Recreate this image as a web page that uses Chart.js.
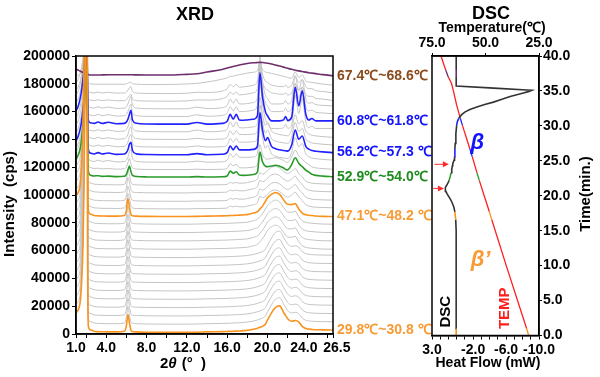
<!DOCTYPE html>
<html><head><meta charset="utf-8">
<script src="https://cdn.jsdelivr.net/npm/chart.js@4.4.0/dist/chart.umd.min.js"></script>
<style>
html,body{margin:0;padding:0;background:#fff;}
#wrap{position:relative;width:600px;height:377px;overflow:hidden;}
canvas{position:absolute;left:0;top:0;}
</style></head><body>
<div id="wrap"><canvas id="xrd" width="600" height="377"></canvas><canvas id="dsc" width="600" height="377"></canvas></div>
<script>
// ---------------- XRD data ----------------
const twoTheta = [1.0,1.2,1.4,1.55,1.7,1.8,1.9,2.0,2.08,2.15,
 2.22,2.4,2.8,3.2,3.6,4.2,5.0,5.8,6.0,6.15,
 6.3,6.45,6.6,7.0,8.0,10.0,12.0,13.0,14.0,15.5,
 16.0,16.3,16.6,16.9,17.2,17.6,18.0,18.6,19.0,19.25,
 19.5,19.8,20.0,20.4,20.8,21.2,21.6,21.8,22.0,22.4,
 22.75,23.1,23.45,23.8,24.1,24.4,24.8,25.5,26.5];

// intensity above each scan's own level at 2θ = 10°
const profBetaPrimeEarly = [14000,16000,21000,35000,65000,110000,180000,260000,260000,58800,
 4800,1800,800,500,400,300,300,800,4800,12800,
 6800,1500,600,300,100,0,0,100,300,500,
 600,700,800,900,1000,1200,1500,2200,3000,3600,
 4300,6000,8800,14000,18000,19000,14300,12000,9800,8000,
 8500,7500,4300,2800,2300,2100,1900,1800,1700];
const profBetaPrimeLate = [15000,17000,22000,36000,66000,111000,181000,260000,260000,58800,
 4800,1800,800,500,400,300,300,800,4500,13000,
 7000,1500,600,300,100,0,0,100,300,500,
 600,700,800,900,1000,1200,1400,2500,3500,5500,
 7500,11000,13500,16000,17300,16000,12000,10000,8800,8600,
 9300,5500,2500,1300,900,700,400,100,0];
const profTransition = [14000,16000,20000,30000,50000,80000,130000,200000,200000,50000,
 4500,1700,800,600,400,400,300,700,4000,11000,
 7500,2500,700,300,100,0,0,200,200,400,
 700,2000,1500,2000,1500,1500,2000,3000,4500,9000,
 8000,9000,10500,13000,13500,12500,10000,9000,8500,10000,
 12000,8500,6000,3000,2000,1500,1200,1000,800];
const prof52_9 = [12500,15500,20000,27000,38000,48000,60000,80000,75000,30000,
 4500,1500,800,1000,500,700,300,600,2000,5000,
 8000,4000,1200,400,100,0,0,300,0,200,
 800,4300,2800,3800,1500,1200,1300,1800,3500,18000,
 11000,7800,7500,8000,8500,7800,6500,5500,5200,9000,
 13900,10000,7500,5000,3500,2000,1200,700,200];
const prof56_2 = [10000,13000,18000,24000,33000,41000,52000,72000,65000,28000,
 4000,1200,500,1500,500,1200,200,500,1500,3500,
 7500,9000,3000,600,100,0,0,800,0,300,
 1500,6200,3500,6200,3500,3500,3500,3800,6000,30300,
 18000,10000,12300,6000,4300,3500,3000,2800,2600,7000,
 17800,11100,13500,6000,4000,3000,2500,2000,1500];
const prof60_8 = [9500,12500,18000,24000,33000,40000,50000,68000,60000,25000,
 3000,1000,500,1500,500,1300,300,500,1500,3500,
 7000,10000,3000,600,100,0,0,1200,0,500,
 2000,7100,3500,7100,3000,2800,3000,3500,6000,37000,
 20000,8800,6000,2300,2300,2300,3000,5400,2500,5000,
 26400,13100,23900,7100,3000,4000,2300,2300,2300];
const profBetaStrong = [9500,12500,17000,23000,31000,38000,48000,65000,58000,24000,
 3000,1000,500,1500,500,1300,300,500,1500,3500,
 6500,9000,3000,600,100,0,0,1200,200,800,
 2500,7000,4000,7000,3500,3500,3800,4500,8000,38000,
 20000,9500,7500,3500,3500,3500,4000,6000,3500,6000,
 24000,13000,21000,7000,4000,4500,3000,2500,2000];
const profPreMelt = [8000,10000,14000,19000,26000,32000,40000,55000,48000,20000,
 2500,800,400,1000,400,900,300,400,1000,2500,
 4000,5000,1500,400,100,0,200,900,800,1800,
 3500,6500,5000,6500,4500,4800,5200,6000,9000,24000,
 14000,9000,8000,6000,5500,5000,5000,6000,4500,6000,
 12000,8000,10000,5000,3500,3500,2000,1500,500];
const profMeltOnset = [6000,6500,8000,11000,16000,22000,30000,40000,35000,12000,
 1500,500,200,200,200,200,200,200,500,1000,
 1500,1500,600,200,0,0,400,800,1800,3800,
 4800,5800,6000,6600,7000,7600,8200,8800,10000,16000,
 11000,9000,8600,8000,7300,6600,5800,5600,5000,4500,
 9000,5000,7000,2500,1800,1500,1000,300,-500];
const profMelt = [4300,3600,2900,2400,1900,1600,1300,1000,800,600,
 400,0,0,0,100,200,200,200,200,200,
 200,200,200,100,0,0,500,900,2200,4000,
 5000,5600,6200,6700,7200,7800,8300,8800,9000,9100,
 9000,8700,8500,7900,7200,6500,5700,5300,4900,4100,
 3500,3000,2500,2100,1700,1400,1000,300,-500];

const profiles = {
  betaPrimeEarly: profBetaPrimeEarly, betaPrimeLate: profBetaPrimeLate,
  transition: profTransition, s52_9: prof52_9, s56_2: prof56_2, s60_8: prof60_8,
  betaStrong: profBetaStrong, preMelt: profPreMelt, meltOnset: profMeltOnset, melt: profMelt
};

// level of every scan at 2θ = 10° (bottom scan first)
const scanOffsets = [1200,7100,13000,19000,25000,31000,37000,43000,49000,55000,
 61000,67000,73000,79000,84500,90000,95500,101500,107000,112900,
 118300,123600,129000,134500,140000,145500,151000,156500,162000,167500,
 173000,179500,186300];
const scanProfile = ['betaPrimeEarly','betaPrimeEarly','betaPrimeEarly','betaPrimeEarly','betaPrimeEarly',
 'betaPrimeEarly','betaPrimeEarly','betaPrimeEarly','betaPrimeEarly','betaPrimeEarly',
 'betaPrimeLate','betaPrimeLate','betaPrimeLate','betaPrimeLate','betaPrimeLate',
 'transition','transition','transition','transition','s52_9',
 's52_9','s56_2','s56_2','s56_2','s56_2',
 's60_8','s60_8','betaStrong','betaStrong','preMelt',
 'preMelt','meltOnset','melt'];

const highlightScan = [0, 14, 19, 22, 26, 32];
const highlightLine = ['#F7931E','#F7931E','#2A9A2A','#2222FF','#2222FF','#6E2E6E'];
const highlightText = ['#F99B35','#F99B35','#1E8C1E','#1414FF','#1414FF','#8B4A1C'];
const scanLabels = ['29.8℃~30.8 ℃','47.1℃~48.2 ℃','52.9℃~54.0℃','56.2℃~57.3 ℃','60.8℃~61.8℃','67.4℃~68.6℃'];

const xTickMarks = [1,2,4,6,8,10,12,14,16,18,20,22,24,26,26.5];
const xTickLabels = [1,4,8,12,16,20,24,26.5];
const xTickText = ['1.0','4.0','8.0','12.0','16.0','20.0','24.0  ','  26.5'];

// ---------------- DSC data ----------------
const dscTime = [0,1.0,5,10,15,16.6,17.7,18.4,19.0,19.4,19.9,20.3,20.6,20.85,21.05,21.2,21.5,22.0,22.2,22.7,
 23.3,23.8,24.3,24.6,25.1,25.6,26.7,27.5,28.9,30.1,30.6,31.1,31.6,32.0,32.35,32.7,33.05,33.4,33.8,34.2,
 34.45,34.7,34.9,35.1,35.4,35.7,37.0,38.0,40.0];
const dscFlow = [0.06,0.06,0.06,0.06,0.07,0.12,0.22,0.35,0.55,0.72,0.98,1.18,1.30,1.38,1.36,1.38,1.22,0.99,0.92,0.80,
 0.68,0.60,0.52,0.48,0.32,0.26,0.22,0.18,0.10,0.00,-0.08,-0.25,-0.6,-1.03,-1.6,-2.45,-3.4,-4.46,-5.5,-6.49,
 -7.3,-8.1,-8.7,-9.12,-4.5,0.06,0.06,0.06,0.06];
const tempTime = [0,1.0,10,16.6,17.7,20,22.2,23.3,25.6,26.7,30.1,31.1,33.0,35.0,36.1,37.0,38.0,40.0];
const tempValue = [29.8,30.8,40.3,47.1,48.2,50.6,52.9,54.0,56.2,57.3,60.8,61.8,63.5,65.0,65.9,67.4,68.6,70.8];
const scanStart = [0, 16.6, 22.2, 25.6, 30.1, 37.0];
const scanEnd   = [1.0, 17.7, 23.3, 26.7, 31.1, 38.0];
const flowTickMarks = [3,2,1,0,-1,-2,-3,-4,-5,-6,-7,-8,-9,-10];
const flowTickLabels = [3,-2,-6,-10];
const tempTickMarks = [75,50,25];
const arrowTimes = [24.5, 21.05];
const arrowFrom = [2.7, 2.85];
const arrowTo = [0.95, 1.55];

// ---------------- rendering ----------------
const FONT = "Arial, 'Liberation Sans', Helvetica, sans-serif";
Chart.defaults.font.family = FONT;
Chart.defaults.color = '#000';

const datasets = scanOffsets.map((off, i) => {
  const prof = profiles[scanProfile[i]];
  const h = highlightScan.indexOf(i);
  return {
    data: twoTheta.map((x, k) => ({x, y: off + prof[k]})),
    borderColor: h >= 0 ? highlightLine[h] : '#C4C4C4',
    borderWidth: h >= 0 ? 1.6 : 1,
    pointRadius: 0,
    cubicInterpolationMode: 'monotone',
    order: h >= 0 ? 0 : 1
  };
});

const tickFont = {size: 14, weight: 'bold'};

const xrdDecor = {
  id: 'xrdDecor',
  afterDraw(chart) {
    const {ctx, chartArea: a} = chart;
    const y = chart.scales.y;
    ctx.save();
    ctx.strokeStyle = '#000'; ctx.lineWidth = 1.5;
    ctx.strokeRect(a.left, a.top, a.right - a.left, a.bottom - a.top);
    ctx.fillStyle = '#000';
    ctx.textAlign = 'center'; ctx.textBaseline = 'middle';
    ctx.font = 'bold 18px ' + FONT;
    ctx.fillText('XRD', 195, 15);
    ctx.save();
    ctx.translate(10, 204); ctx.rotate(-Math.PI / 2);
    ctx.font = 'bold 15px ' + FONT;
    ctx.fillText('Intensity  (cps)', 0, 0);
    ctx.restore();
    // 2θ (° )
    ctx.textAlign = 'left';
    let xx = 160; const yy = 364;
    ctx.font = 'bold 15px ' + FONT; ctx.fillText('2', xx, yy); xx += ctx.measureText('2').width;
    ctx.font = 'italic bold 15px ' + FONT; ctx.fillText('θ', xx, yy); xx += ctx.measureText('θ').width + 5;
    ctx.font = 'bold 15px ' + FONT; ctx.fillText('(°  )', xx, yy);
    // scan labels
    ctx.font = 'bold 14px ' + FONT;
    highlightScan.forEach((idx, k) => {
      const d = chart.data.datasets[idx].data;
      ctx.fillStyle = highlightText[k];
      ctx.fillText(scanLabels[k], a.right + 4, y.getPixelForValue(d[d.length - 1].y));
    });
    ctx.restore();
  }
};

new Chart(document.getElementById('xrd'), {
  type: 'line',
  data: {datasets},
  options: {
    responsive: false, animation: false, events: [],
    layout: {padding: {left: 0, right: 267, top: 56, bottom: 0}},
    plugins: {legend: {display: false}, tooltip: {enabled: false}},
    scales: {
      x: {
        type: 'linear', min: 1, max: 26.5,
        afterFit: s => { s.height = 43; },
        afterBuildTicks: s => { s.ticks = xTickMarks.map(v => ({value: v})); },
        ticks: {autoSkip: false, maxRotation: 0, font: tickFont, padding: 2,
          callback: v => { const k = xTickLabels.indexOf(v); return k >= 0 ? xTickText[k] : ''; }},
        grid: {drawOnChartArea: false, tickLength: 4, color: '#000'},
        border: {color: '#000', width: 1.5}
      },
      y: {
        type: 'linear', min: 0, max: 200000,
        afterFit: s => { s.width = 76; },
        ticks: {stepSize: 20000, font: tickFont, padding: 2, callback: v => String(v)},
        grid: {drawOnChartArea: false, tickLength: 4, color: '#000'},
        border: {color: '#000', width: 1.5}
      }
    }
  },
  plugins: [xrdDecor]
});

function scanColor(ctx) {
  const t0 = ctx.p0.parsed.y, t1 = ctx.p1.parsed.y;
  for (let k = 0; k < scanStart.length; k++) {
    if (t0 >= scanStart[k] - 1e-6 && t1 <= scanEnd[k] + 1e-6) return highlightLine[k];
  }
  return undefined;
}

const dscDecor = {
  id: 'dscDecor',
  afterDraw(chart) {
    const {ctx, chartArea: a} = chart;
    const xs = chart.scales.x, ys = chart.scales.y;
    ctx.save();
    ctx.strokeStyle = '#000'; ctx.lineWidth = 1.5;
    ctx.strokeRect(a.left, a.top, a.right - a.left, a.bottom - a.top);
    ctx.fillStyle = '#000'; ctx.textAlign = 'center'; ctx.textBaseline = 'middle';
    ctx.font = 'bold 18px ' + FONT; ctx.fillText('DSC', 491, 14);
    ctx.font = 'bold 14px ' + FONT; ctx.fillText('Temperature(℃)', 492, 28);
    ctx.font = 'bold 14px ' + FONT; ctx.fillText('Heat Flow (mW)', 488, 363);
    ctx.save(); ctx.translate(586, 194); ctx.rotate(-Math.PI / 2);
    ctx.font = 'bold 15px ' + FONT; ctx.fillText('Time(min.)', 0, 0); ctx.restore();
    // arrows
    ctx.strokeStyle = '#FF2A2A'; ctx.fillStyle = '#FF2A2A'; ctx.lineWidth = 1;
    arrowTimes.forEach((t, k) => {
      const py = ys.getPixelForValue(t);
      const x0 = xs.getPixelForValue(arrowFrom[k]), x1 = xs.getPixelForValue(arrowTo[k]);
      ctx.beginPath(); ctx.moveTo(x0, py); ctx.lineTo(x1 - 4, py); ctx.stroke();
      ctx.beginPath(); ctx.moveTo(x1, py); ctx.lineTo(x1 - 6, py - 3); ctx.lineTo(x1 - 6, py + 3); ctx.closePath(); ctx.fill();
    });
    // phase labels
    ctx.font = 'italic bold 22px ' + FONT;
    ctx.fillStyle = '#1414FF';
    ctx.fillText('β', xs.getPixelForValue(-2.5), ys.getPixelForValue(27.5));
    ctx.fillStyle = '#F99B35';
    ctx.fillText('β’', xs.getPixelForValue(-2.9), ys.getPixelForValue(10.8));
    ctx.font = 'bold 15px ' + FONT;
    ctx.save(); ctx.translate(xs.getPixelForValue(1.27), ys.getPixelForValue(3.4)); ctx.rotate(-Math.PI / 2);
    ctx.fillStyle = '#000'; ctx.fillText('DSC', 0, 0); ctx.restore();
    ctx.save(); ctx.translate(xs.getPixelForValue(-5.9), ys.getPixelForValue(3.9)); ctx.rotate(-Math.PI / 2);
    ctx.fillStyle = '#FF1E1E'; ctx.fillText('TEMP', 0, 0); ctx.restore();
    ctx.restore();
  }
};

new Chart(document.getElementById('dsc'), {
  type: 'line',
  data: {datasets: [
    {data: dscTime.map((t, k) => ({x: dscFlow[k], y: t})), xAxisID: 'x', yAxisID: 'y',
     borderColor: '#333333', borderWidth: 1.6, pointRadius: 0, tension: 0,
     segment: {borderColor: scanColor}},
    {data: tempTime.map((t, k) => ({x: tempValue[k], y: t})), xAxisID: 'xT', yAxisID: 'y',
     borderColor: '#FF1E1E', borderWidth: 1.3, pointRadius: 0, tension: 0,
     segment: {borderColor: scanColor}}
  ]},
  options: {
    responsive: false, animation: false, events: [],
    layout: {padding: {left: 432, right: 0, top: 0, bottom: 0}},
    plugins: {legend: {display: false}, tooltip: {enabled: false}},
    scales: {
      x: {
        type: 'linear', position: 'bottom', min: -10, max: 3, reverse: true,
        afterFit: s => { s.height = 41.5; },
        afterBuildTicks: s => { s.ticks = flowTickMarks.map(v => ({value: v})); },
        ticks: {autoSkip: false, maxRotation: 0, font: tickFont, padding: 2,
          callback: v => flowTickLabels.includes(v) ? v.toFixed(1) : ''},
        grid: {drawOnChartArea: false, tickLength: 4, color: '#000'},
        border: {color: '#000', width: 1.5}
      },
      xT: {
        type: 'linear', position: 'top', min: 25, max: 75, reverse: true,
        afterFit: s => { s.height = 56; },
        afterBuildTicks: s => { s.ticks = tempTickMarks.map(v => ({value: v})); },
        ticks: {autoSkip: false, maxRotation: 0, font: tickFont, padding: 1,
          callback: v => v.toFixed(1)},
        grid: {drawOnChartArea: false, tickLength: 3, color: '#000'},
        border: {color: '#000', width: 1.5}
      },
      y: {
        type: 'linear', position: 'right', min: 0, max: 40,
        afterFit: s => { s.width = 61; },
        ticks: {stepSize: 5, font: tickFont, padding: 1, callback: v => v.toFixed(1)},
        grid: {drawOnChartArea: false, tickLength: 3, color: '#000'},
        border: {color: '#000', width: 1.5}
      }
    }
  },
  plugins: [dscDecor]
});
</script>
</body></html>
